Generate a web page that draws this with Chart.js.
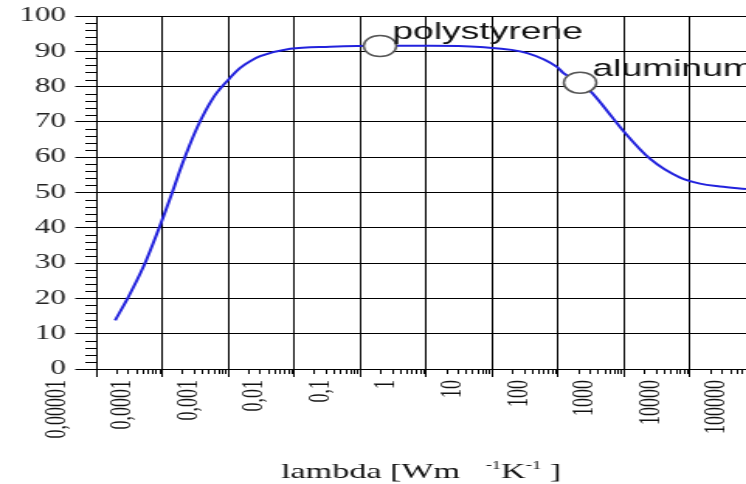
<!DOCTYPE html>
<html>
<head>
<meta charset="utf-8">
<script src="https://cdn.jsdelivr.net/npm/chart.js@4/dist/chart.umd.min.js"></script>
<style>
  html, body { margin: 0; padding: 0; background: #fff; overflow: hidden; }
  #chart { display: block; width: 481px; height: 484px; transform: scaleX(1.551); transform-origin: 0 0; }
</style>
</head>
<body>
<canvas id="chart" width="481" height="484"></canvas>
<script>
// Curve (lambda on a log axis, value in %)
const lambdaValues = [1.94e-5, 3.05e-5, 5.15e-5, 9.66e-5, 1.42e-4, 2.01e-4, 3.39e-4, 5.93e-4,
  1e-3, 1.52e-3, 2.15e-3, 3.05e-3, 8.7e-3, 0.035, 0.2, 1.15, 6.6, 34, 97, 119, 215, 305,
  681, 966, 2480, 7050, 14100, 28300, 70300];
const curveValues = [13.8, 20.3, 28.8, 41.5, 50, 58, 68.4, 76.8,
  81.9, 85.3, 87.2, 88.6, 90.7, 91.3, 91.6, 91.6, 91.2, 89.5, 85.5, 83.9, 81, 78.8,
  71, 67.5, 59.5, 54.2, 52.5, 51.7, 51];

// Marked materials
const markerNames = ['polystyrene', 'aluminum'];
const markerLambda = [0.2, 215];
const markerValues = [91.5, 81.1];

// Axis ticks
const xTickValues = [1e-5, 1e-4, 1e-3, 1e-2, 1e-1, 1, 10, 100, 1000, 10000, 100000];
const xTickLabels = ['0,00001', '0,0001', '0,001', '0,01', '0,1', '1', '10', '100', '1000', '10000', '100000'];
const xMin = 1e-5;
const xMax = 70300;
const yTickValues = [0, 10, 20, 30, 40, 50, 60, 70, 80, 90, 100];
// axis title, pieces with superscripts
const titleParts = [
  { text: 'lambda [Wm   ', sup: false },
  { text: '-1', sup: true },
  { text: 'K', sup: false },
  { text: '-1', sup: true },
  { text: ' ]', sup: false }
];

// minor ticks: 2..9 in each decade, every 2 on the y axis
const xMinorValues = [];
xTickValues.forEach(d => { for (let m = 2; m <= 9; m++) xMinorValues.push(d * m); });
const yMinorValues = [];
for (let v = 2; v < 100; v += 2) if (v % 10 !== 0) yMinorValues.push(v);

const SERIF = '"Liberation Serif", "Times New Roman", serif';

const extras = {
  id: 'extras',
  afterDraw(chart) {
    const { ctx, chartArea } = chart;
    const x = chart.scales.x, y = chart.scales.y;
    ctx.save();
    // minor ticks
    ctx.strokeStyle = '#000';
    ctx.lineWidth = 1;
    ctx.beginPath();
    xMinorValues.forEach(v => {
      if (v < x.min || v > x.max) return;
      const px = Math.round(x.getPixelForValue(v)) + 0.5;
      ctx.moveTo(px, y.bottom);
      ctx.lineTo(px, y.bottom + 5);
    });
    yMinorValues.forEach(v => {
      const py = Math.round(y.getPixelForValue(v)) + 0.5;
      ctx.moveTo(x.left - 7, py);
      ctx.lineTo(x.left, py);
    });
    ctx.stroke();

    // axis title with superscripts, centred under the plot
    const mainFont = '22px ' + SERIF;
    const supFont = '12px ' + SERIF;
    let total = 0;
    titleParts.forEach(p => {
      ctx.font = p.sup ? supFont : mainFont;
      p.w = ctx.measureText(p.text).width;
      total += p.w;
    });
    let tx = (chartArea.left + chartArea.right) / 2 - total / 2;
    const baseY = 478;
    ctx.fillStyle = '#111';
    ctx.textBaseline = 'alphabetic';
    ctx.textAlign = 'left';
    titleParts.forEach(p => {
      ctx.font = p.sup ? supFont : mainFont;
      ctx.fillText(p.text, tx, p.sup ? baseY - 9 : baseY);
      tx += p.w;
    });
    ctx.restore();
  },
  afterDatasetsDraw(chart) {
    const { ctx } = chart;
    const meta = chart.getDatasetMeta(1);
    ctx.save();
    ctx.font = '24px "Liberation Sans", Arial, sans-serif';
    ctx.fillStyle = '#111';
    ctx.textBaseline = 'alphabetic';
    meta.data.forEach((pt, i) => {
      ctx.fillText(markerNames[i], pt.x + 8, pt.y - 7);
    });
    ctx.restore();
  }
};

const ctx = document.getElementById('chart').getContext('2d');
const chart = new Chart(ctx, {
  type: 'scatter',
  data: {
    datasets: [
      {
        label: 'curve',
        data: lambdaValues.map((v, i) => ({ x: v, y: curveValues[i] })),
        showLine: true,
        borderColor: '#2222dd',
        borderWidth: 2,
        pointRadius: 0,
        tension: 0.4,
        cubicInterpolationMode: 'monotone',
        order: 1
      },
      {
        label: 'materials',
        data: markerLambda.map((v, i) => ({ x: v, y: markerValues[i] })),
        showLine: false,
        pointRadius: 10.5,
        pointBackgroundColor: '#fff',
        pointBorderColor: '#555',
        pointBorderWidth: 1.5,
        order: 0
      }
    ]
  },
  options: {
    responsive: false,
    animation: false,
    layout: { autoPadding: false, padding: { top: 16, left: 0, right: 0, bottom: 0 } },
    plugins: {
      legend: { display: false },
      tooltip: { enabled: false },
      title: { display: false }
    },
    scales: {
      x: {
        type: 'logarithmic',
        min: xMin,
        max: xMax,
        afterBuildTicks: scale => {
          scale.ticks = xTickValues.map(v => ({ value: v }));
        },
        afterFit: scale => {
          scale.height = 115;
          scale.paddingLeft = 0;
          scale.paddingRight = 0;
        },
        grid: { color: '#000', lineWidth: 1, tickLength: 8, tickColor: '#000' },
        border: { color: '#000', width: 1 },
        ticks: {
          autoSkip: false,
          minRotation: 90,
          maxRotation: 90,
          padding: 3,
          labelOffset: -25,
          color: '#111',
          font: { family: SERIF, size: 18 },
          callback: (value, index) => xTickLabels[index]
        }
      },
      y: {
        min: 0,
        max: 100,
        afterBuildTicks: scale => {
          scale.ticks = yTickValues.map(v => ({ value: v }));
        },
        afterFit: scale => {
          scale.width = 62;
          scale.paddingTop = 0;
          scale.paddingBottom = 0;
        },
        grid: { color: '#000', lineWidth: 1, tickLength: 13.5, tickColor: '#000' },
        border: { color: '#000', width: 1 },
        ticks: {
          padding: 6,
          color: '#222',
          font: { family: SERIF, size: 20 }
        }
      }
    }
  },
  plugins: [extras]
});
</script>
</body>
</html>
